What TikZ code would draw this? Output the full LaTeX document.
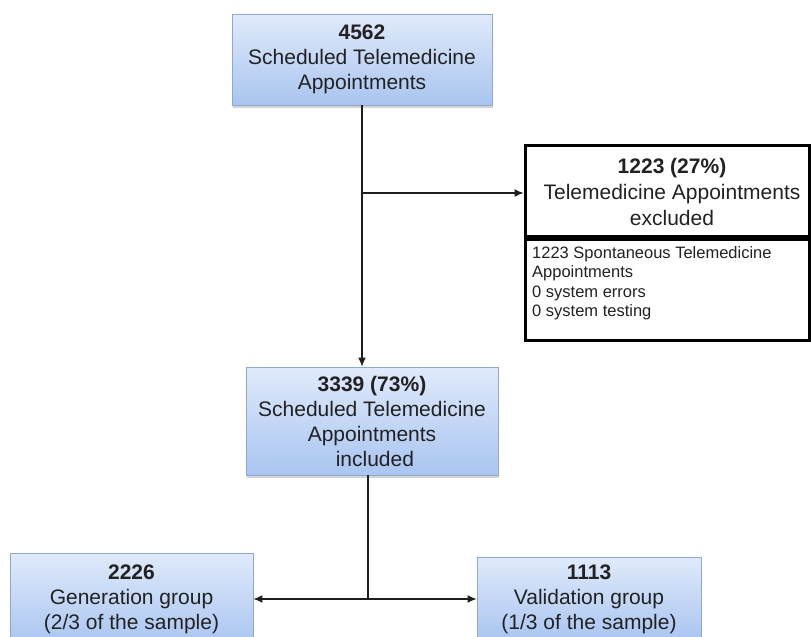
\documentclass[tikz,border=0pt]{standalone}
\usepackage{fontspec}
\setmainfont{Liberation Sans}
\usetikzlibrary{shadows,arrows.meta}
\definecolor{boxtop}{HTML}{E0EAFB}
\definecolor{boxbot}{HTML}{A9C5F0}
\definecolor{boxedge}{HTML}{8FA8D0}
\definecolor{txt}{HTML}{222222}
\definecolor{wire}{HTML}{1E1E1E}
\begin{document}
\begin{tikzpicture}[x=1pt,y={(0pt,-1pt)},
  bluebox/.style={draw=boxedge, line width=0.9pt, top color=boxtop, bottom color=boxbot,
    drop shadow={shadow xshift=1pt, shadow yshift=-2.5pt, opacity=0.35},
    align=center, inner sep=0pt, text=txt, font=\fontsize{21}{25}\selectfont},
  exframe/.style={draw=black, line width=3pt, fill=white, inner sep=0pt},
  bigtext/.style={align=center, text=txt, font=\fontsize{21}{26}\selectfont, inner sep=0pt},
  smalltext/.style={align=left, text=txt, font=\fontsize{16.5}{19.5}\selectfont, inner sep=0pt},
  link/.style={draw=wire, line width=1.2pt},
  arr/.style={link, -{Latex[length=9pt,width=8pt]}}]
  \useasboundingbox (0,0) rectangle (811,637);
  \clip (0,0) rectangle (811,637);

  % main flow boxes
  \node[bluebox, minimum width=260pt, minimum height=91pt] (total) at (362,59.5)
    {\textbf{4562}\\Scheduled Telemedicine\\Appointments};
  \node[bluebox, minimum width=252pt, minimum height=108pt] (incl) at (372,421)
    {\textbf{3339 (73\%)}\\Scheduled Telemedicine\\Appointments\\\ included};
  \node[bluebox, minimum width=243pt, minimum height=92pt] (gen) at (131.5,599)
    {\textbf{2226}\\Generation group\\(2/3 of the sample)};
  \node[bluebox, minimum width=224pt, minimum height=84pt] (val) at (589,599)
    {\textbf{1113}\\Validation group\\(1/3 of the sample)};

  % exclusion box: header and details
  \node[exframe, minimum width=284pt, minimum height=91pt] (exhead) at (667,190.5) {};
  \node[bigtext] (exheadtext) at (672,192)
    {\textbf{1223 (27\%)}\\Telemedicine Appointments\\excluded};
  \node[exframe, minimum width=284pt, minimum height=101pt, anchor=north] (exbody) at (exhead.south) {};
  \node[smalltext, anchor=north west] (exbodytext) at (532,246)
    {1223 Spontaneous Telemedicine\\Appointments\\0 system errors\\0 system testing};

  % connectors
  \coordinate (branch) at (362,193);
  \coordinate (split) at (368,599);
  \draw[arr] (total.south -| branch) -- (incl.north -| branch);
  \draw[arr] (branch) -- (exhead.west |- branch);
  \draw[link] (incl.south -| split) -- (split);
  \draw[arr] (split) -- (gen.east |- split);
  \draw[arr] (split) -- (val.west |- split);
\end{tikzpicture}
\end{document}
